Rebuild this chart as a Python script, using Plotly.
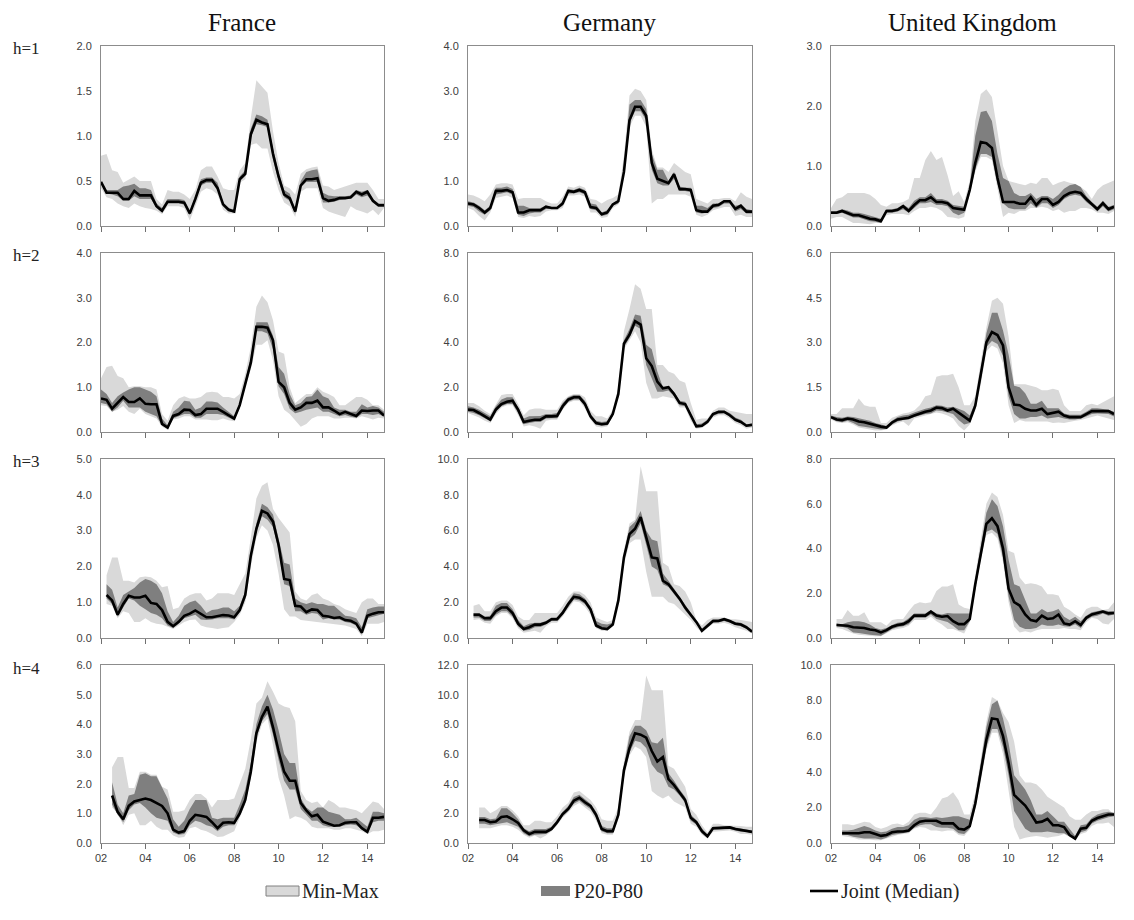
import plotly.graph_objects as go

# ---------------- categories ----------------
QUARTERS = [f"{y}Q{q}" for y in range(2002, 2015) for q in range(1, 5)]
COUNTRIES = ["France", "Germany", "United Kingdom"]
HORIZONS = ["h=1", "h=2", "h=3", "h=4"]
XTICK_VALS = [2002, 2004, 2006, 2008, 2010, 2012, 2014]
XTICK_TEXT = ["02", "04", "06", "08", "10", "12", "14"]

# y-axis maximum and step per panel (rows h=1..4, columns FR, DE, UK)
Y_MAX = [[2, 4, 3], [4, 8, 6], [5, 10, 8], [6, 12, 10]]
Y_STEP = [[0.5, 1, 1], [1, 2, 1.5], [1, 2, 2], [1, 2, 2]]

# ---------------- France ----------------
FR1_START = 0
FR1_MED = [0.49,0.37,0.37,0.37,0.30,0.30,0.39,0.34,0.34,0.34, 0.22,0.17,0.27,0.27,0.27,0.26,0.14,0.30,0.48,0.51,
           0.51,0.42,0.24,0.18,0.16,0.52,0.58,1.02,1.18,1.15, 1.13,0.80,0.55,0.35,0.31,0.16,0.45,0.52,0.52,0.53,
           0.31,0.28,0.29,0.31,0.31,0.32,0.38,0.35,0.38,0.28, 0.23,0.23]
FR1_P80 = [0.50,0.40,0.40,0.40,0.44,0.45,0.47,0.42,0.42,0.40, 0.25,0.20,0.30,0.30,0.30,0.29,0.17,0.33,0.52,0.54,
           0.54,0.48,0.26,0.20,0.18,0.55,0.62,1.08,1.24,1.22, 1.18,0.86,0.60,0.40,0.36,0.19,0.50,0.60,0.62,0.63,
           0.37,0.34,0.33,0.33,0.33,0.34,0.40,0.38,0.40,0.30, 0.25,0.25]
FR1_P20 = [0.47,0.36,0.35,0.33,0.28,0.28,0.33,0.30,0.30,0.30, 0.20,0.15,0.25,0.25,0.25,0.24,0.12,0.28,0.45,0.48,
           0.48,0.44,0.22,0.16,0.15,0.50,0.56,0.98,1.13,1.12, 1.10,0.74,0.50,0.32,0.28,0.14,0.43,0.49,0.49,0.49,
           0.26,0.26,0.27,0.29,0.30,0.30,0.35,0.32,0.34,0.26, 0.21,0.21]
FR1_MAX = [0.78,0.80,0.62,0.60,0.48,0.52,0.55,0.50,0.50,0.50, 0.30,0.24,0.40,0.38,0.38,0.35,0.30,0.40,0.62,0.66,
           0.66,0.55,0.42,0.40,0.40,0.62,0.70,1.20,1.62,1.55, 1.48,1.05,0.70,0.45,0.42,0.35,0.58,0.63,0.65,0.66,
           0.45,0.44,0.40,0.42,0.44,0.46,0.48,0.48,0.48,0.40, 0.30,0.30]
FR1_MIN = [0.42,0.32,0.30,0.25,0.22,0.20,0.25,0.22,0.20,0.19, 0.17,0.13,0.22,0.22,0.22,0.20,0.06,0.22,0.38,0.42,
           0.40,0.35,0.18,0.14,0.14,0.48,0.52,0.90,0.92,0.86, 0.86,0.60,0.40,0.26,0.22,0.10,0.38,0.42,0.42,0.42,
           0.20,0.16,0.14,0.12,0.10,0.22,0.18,0.16,0.14,0.18, 0.12,0.20]

FR2_START = 0
FR2_MED = [0.75,0.72,0.52,0.65,0.78,0.67,0.67,0.75,0.63,0.62, 0.62,0.18,0.10,0.36,0.40,0.50,0.49,0.38,0.40,0.52,
           0.52,0.52,0.45,0.38,0.30,0.60,1.10,1.55,2.35,2.35, 2.33,2.05,1.12,1.00,0.65,0.50,0.55,0.65,0.65,0.70,
           0.55,0.55,0.48,0.40,0.45,0.40,0.36,0.48,0.47,0.48, 0.48,0.37]
FR2_P80 = [0.95,0.85,0.65,0.80,0.88,0.95,1.00,1.00,0.95,0.90, 0.80,0.30,0.15,0.45,0.55,0.70,0.68,0.50,0.55,0.68,
           0.68,0.66,0.55,0.45,0.35,0.65,1.15,1.65,2.45,2.45, 2.45,2.15,1.45,1.30,0.85,0.60,0.65,0.78,0.80,0.95,
           0.80,0.75,0.55,0.50,0.50,0.45,0.45,0.62,0.55,0.58, 0.55,0.45]
FR2_P20 = [0.65,0.62,0.45,0.55,0.70,0.55,0.55,0.55,0.45,0.40, 0.35,0.15,0.08,0.30,0.35,0.40,0.40,0.32,0.32,0.40,
           0.40,0.40,0.38,0.32,0.26,0.55,1.05,1.48,2.25,2.25, 2.20,1.85,1.02,0.85,0.52,0.42,0.45,0.50,0.52,0.55,
           0.45,0.45,0.40,0.35,0.38,0.34,0.32,0.40,0.40,0.38, 0.40,0.34]
FR2_MAX = [1.20,1.45,1.48,1.25,1.20,1.00,1.02,1.02,1.00,1.00, 0.95,0.40,0.25,0.60,0.75,0.80,0.75,0.75,0.78,0.88,
           0.90,0.88,0.78,0.78,0.75,0.85,1.30,1.90,2.80,3.05, 2.90,2.50,1.80,1.75,1.00,0.65,0.75,0.85,0.85,1.00,
           0.90,0.85,0.78,0.60,0.60,0.70,0.78,0.78,0.72,0.60, 0.60,0.50]
FR2_MIN = [0.60,0.58,0.45,0.50,0.58,0.45,0.40,0.52,0.40,0.35, 0.30,0.12,0.05,0.28,0.30,0.35,0.35,0.28,0.28,0.28,
           0.26,0.26,0.30,0.26,0.24,0.52,1.00,1.40,1.95,1.95, 2.05,1.60,0.80,0.50,0.40,0.25,0.12,0.18,0.30,0.35,
           0.35,0.35,0.30,0.30,0.32,0.32,0.30,0.35,0.32,0.28, 0.32,0.30]

FR3_START = 1
FR3_MED = [1.20,1.05,0.65,0.95,1.18,1.13,1.13,1.18,0.98,0.95, 0.78,0.45,0.33,0.45,0.62,0.68,0.77,0.68,0.58,0.58,
           0.62,0.64,0.63,0.58,0.78,1.20,2.30,3.05,3.55,3.48, 3.25,2.60,1.65,1.62,0.90,0.88,0.72,0.80,0.78,0.62,
           0.60,0.56,0.58,0.50,0.48,0.40,0.15,0.62,0.68,0.72, 0.72]
FR3_P80 = [1.50,1.35,0.85,1.20,1.30,1.40,1.55,1.65,1.60,1.50, 1.25,0.75,0.45,0.62,0.90,1.00,1.05,0.90,0.70,0.78,
           0.80,0.85,0.85,0.75,0.90,1.30,2.40,3.20,3.75,3.65, 3.45,2.80,2.10,2.05,1.10,1.00,0.95,1.00,0.95,0.95,
           0.90,0.90,0.75,0.62,0.60,0.55,0.30,0.80,0.85,0.88, 0.88]
FR3_P20 = [1.10,0.95,0.60,0.85,1.10,1.05,0.90,0.80,0.70,0.65, 0.55,0.35,0.28,0.40,0.55,0.60,0.65,0.52,0.50,0.52,
           0.55,0.55,0.55,0.52,0.72,1.10,2.20,2.95,3.40,3.30, 3.10,2.45,1.50,1.45,0.75,0.75,0.65,0.70,0.68,0.52,
           0.55,0.52,0.52,0.45,0.42,0.35,0.10,0.55,0.60,0.65, 0.68]
FR3_MAX = [1.75,2.25,2.25,1.60,1.60,1.55,1.70,1.72,1.70,1.60, 1.42,1.45,0.80,0.85,1.10,1.20,1.25,1.25,1.05,1.10,
           1.25,1.25,1.25,1.20,1.50,1.80,2.80,3.90,4.25,4.35, 3.60,3.35,3.15,2.95,1.30,1.10,1.05,1.20,1.25,1.10,
           1.05,0.95,0.90,0.80,0.75,0.70,1.00,1.10,1.10,0.95, 0.95]
FR3_MIN = [0.95,0.90,0.55,0.75,0.70,0.45,0.45,0.55,0.45,0.40, 0.38,0.32,0.25,0.35,0.45,0.50,0.52,0.35,0.30,0.28,
           0.25,0.28,0.30,0.45,0.65,1.00,2.00,2.80,3.15,3.00, 2.60,1.80,0.80,0.60,0.60,0.50,0.48,0.48,0.45,0.42,
           0.40,0.38,0.38,0.35,0.30,0.25,0.05,0.40,0.40,0.40, 0.45]

FR4_START = 2
FR4_MED = [1.60,1.05,0.80,1.25,1.40,1.45,1.50,1.45,1.35,1.25, 1.00,0.45,0.35,0.40,0.75,0.95,0.92,0.88,0.70,0.50,
           0.68,0.70,0.68,1.00,1.45,2.40,3.70,4.25,4.60,3.90, 3.10,2.40,2.10,2.10,1.35,1.10,0.90,0.95,0.72,0.65,
           0.58,0.60,0.68,0.70,0.70,0.50,0.38,0.85,0.85,0.88]
FR4_P80 = [2.05,1.30,1.00,1.60,1.65,2.30,2.35,2.25,2.25,1.85, 1.50,0.80,0.55,0.75,1.15,1.45,1.45,1.45,0.85,0.80,
           0.85,0.85,0.85,1.30,1.80,2.70,4.00,4.60,5.00,4.50, 3.80,3.00,2.70,2.70,1.50,1.20,1.05,1.20,1.20,1.05,
           1.00,0.95,0.80,0.80,0.85,0.70,0.55,1.05,1.05,1.00]
FR4_P20 = [1.30,0.95,0.70,1.10,1.30,1.35,1.20,1.00,0.85,0.80, 0.75,0.35,0.28,0.30,0.60,0.75,0.70,0.60,0.55,0.40,
           0.55,0.60,0.60,0.90,1.35,2.25,3.55,4.10,4.35,3.65, 2.80,2.10,1.80,1.80,1.15,0.95,0.75,0.75,0.60,0.55,
           0.55,0.55,0.60,0.62,0.60,0.45,0.32,0.70,0.75,0.75]
FR4_MAX = [2.55,2.90,2.90,1.85,1.85,2.40,2.40,2.30,2.30,1.90, 1.80,1.05,1.05,1.10,1.45,1.65,1.65,1.50,1.20,1.45,
           1.45,1.45,1.50,2.00,2.50,3.50,4.70,4.90,5.45,5.10, 4.70,4.60,4.55,4.10,1.75,1.45,1.35,1.40,1.20,1.45,
           1.35,1.20,1.20,1.15,1.10,1.00,1.20,1.40,1.35,1.15]
FR4_MIN = [1.20,1.00,0.60,0.95,1.00,0.60,0.60,0.75,0.55,0.45, 0.45,0.25,0.18,0.20,0.50,0.55,0.45,0.40,0.30,0.20,
           0.22,0.30,0.40,0.85,1.30,2.20,3.40,4.00,4.20,3.30, 2.20,1.60,0.80,0.90,0.85,0.75,0.55,0.50,0.50,0.50,
           0.45,0.45,0.50,0.50,0.45,0.40,0.30,0.40,0.40,0.45]

# ---------------- Germany ----------------
DE1_START = 0
DE1_MED = [0.50,0.48,0.40,0.30,0.40,0.78,0.78,0.80,0.75,0.30, 0.30,0.35,0.35,0.35,0.43,0.40,0.40,0.50,0.78,0.76,
           0.80,0.75,0.42,0.40,0.26,0.30,0.48,0.55,1.20,2.35, 2.65,2.65,2.45,1.40,1.05,1.00,0.95,1.15,0.82,0.82,
           0.80,0.35,0.32,0.32,0.45,0.47,0.55,0.55,0.38,0.45, 0.32,0.32]
DE1_P80 = [0.55,0.52,0.45,0.35,0.45,0.85,0.85,0.88,0.82,0.45, 0.45,0.40,0.40,0.40,0.45,0.42,0.42,0.55,0.82,0.80,
           0.85,0.80,0.50,0.48,0.30,0.35,0.50,0.58,1.25,2.70, 2.80,2.80,2.60,1.60,1.25,1.25,1.00,1.20,0.88,0.85,
           0.85,0.45,0.45,0.40,0.50,0.50,0.58,0.58,0.45,0.48, 0.38,0.35]
DE1_P20 = [0.45,0.42,0.32,0.25,0.35,0.70,0.72,0.75,0.70,0.25, 0.22,0.28,0.30,0.30,0.38,0.38,0.38,0.45,0.72,0.72,
           0.75,0.70,0.38,0.35,0.22,0.25,0.45,0.50,1.15,2.30, 2.55,2.55,2.35,1.25,0.95,0.90,0.90,1.05,0.78,0.78,
           0.75,0.30,0.28,0.30,0.40,0.42,0.50,0.50,0.32,0.38, 0.28,0.28]
DE1_MAX = [0.70,0.68,0.62,0.55,0.70,0.92,0.95,0.95,0.92,0.60, 0.62,0.62,0.62,0.62,0.55,0.50,0.50,0.65,0.88,0.85,
           0.90,0.85,0.60,0.58,0.50,0.58,0.62,0.70,1.55,2.90, 3.05,3.00,2.80,1.70,1.30,1.30,1.20,1.40,1.30,1.20,
           1.15,0.60,0.55,0.50,0.60,0.60,0.62,0.62,0.55,0.75, 0.65,0.60]
DE1_MIN = [0.40,0.35,0.22,0.12,0.30,0.62,0.65,0.68,0.62,0.20, 0.18,0.22,0.20,0.22,0.32,0.35,0.35,0.40,0.68,0.68,
           0.70,0.65,0.30,0.30,0.18,0.20,0.40,0.48,1.10,2.20, 2.45,2.45,2.20,0.50,0.60,0.60,0.70,0.70,0.70,0.70,
           0.65,0.25,0.20,0.25,0.35,0.38,0.42,0.42,0.22,0.25, 0.20,0.20]

DE2_START = 0
DE2_MED = [1.00,0.98,0.85,0.70,0.55,1.00,1.25,1.35,1.40,1.00, 0.45,0.50,0.55,0.55,0.70,0.70,0.72,1.15,1.45,1.55,
           1.55,1.25,0.70,0.40,0.35,0.38,0.80,1.70,3.95,4.35, 4.95,4.80,3.30,2.95,2.25,1.95,2.00,1.70,1.30,1.25,
           0.75,0.25,0.28,0.45,0.80,0.90,0.90,0.75,0.55,0.45, 0.28,0.32]
DE2_P80 = [1.15,1.10,1.00,0.85,0.70,1.15,1.45,1.55,1.55,1.10, 0.60,0.70,0.72,0.72,0.80,0.80,0.85,1.30,1.55,1.65,
           1.65,1.40,0.80,0.50,0.45,0.48,0.90,1.80,4.10,4.60, 5.25,5.20,3.90,3.70,2.70,2.00,2.05,1.80,1.40,1.35,
           0.85,0.35,0.38,0.55,0.85,0.95,0.95,0.85,0.65,0.55, 0.35,0.38]
DE2_P20 = [0.90,0.85,0.75,0.60,0.48,0.90,1.15,1.25,1.25,0.85, 0.35,0.40,0.45,0.45,0.60,0.62,0.62,1.05,1.35,1.45,
           1.45,1.15,0.60,0.32,0.28,0.30,0.72,1.60,3.80,4.20, 4.75,4.60,3.00,2.40,1.80,1.80,1.85,1.60,1.20,1.15,
           0.65,0.20,0.22,0.40,0.72,0.82,0.85,0.70,0.48,0.40, 0.22,0.28]
DE2_MAX = [1.30,1.30,1.15,0.95,0.80,1.25,1.65,1.70,1.70,1.25, 0.75,1.00,1.05,1.05,1.00,1.00,1.00,1.40,1.60,1.70,
           1.70,1.55,0.95,0.70,0.70,0.60,1.00,2.00,4.50,5.50, 6.60,6.40,5.50,5.50,3.00,3.00,2.70,2.60,2.30,2.20,
           1.30,0.55,0.60,0.60,0.95,1.10,1.10,0.95,0.90,0.85, 0.80,0.80]
DE2_MIN = [0.85,0.75,0.65,0.50,0.40,0.80,1.10,1.20,1.20,0.75, 0.25,0.30,0.25,0.15,0.50,0.55,0.55,1.00,1.30,1.40,
           1.40,1.05,0.55,0.25,0.20,0.25,0.70,1.55,3.70,4.10, 4.50,4.00,2.20,1.50,1.50,1.60,1.55,1.50,1.10,1.10,
           0.50,0.15,0.18,0.35,0.65,0.75,0.75,0.60,0.40,0.30, 0.15,0.20]

DE3_START = 1
DE3_MED = [1.30,1.30,1.10,1.10,1.50,1.70,1.70,1.40,0.80,0.50, 0.60,0.75,0.75,0.85,1.05,1.05,1.40,1.90,2.30,2.25,
           2.05,1.60,0.70,0.55,0.50,0.75,2.10,4.50,5.80,6.10, 6.75,5.60,4.50,4.45,3.20,3.00,2.60,2.20,1.70,1.30,
           0.90,0.40,0.70,0.95,0.95,1.05,0.95,0.80,0.75,0.60, 0.35]
DE3_P80 = [1.40,1.40,1.20,1.25,1.80,1.95,1.95,1.60,1.00,0.65, 0.80,0.85,0.85,0.95,1.15,1.15,1.55,2.05,2.50,2.45,
           2.20,1.75,0.95,0.80,0.75,0.85,2.20,4.65,6.20,6.50, 7.10,6.00,5.50,5.40,3.60,3.20,2.75,2.35,1.85,1.40,
           1.00,0.50,0.80,1.05,1.05,1.10,1.00,0.90,0.85,0.70, 0.45]
DE3_P20 = [1.15,1.15,0.95,0.95,1.30,1.50,1.50,1.20,0.65,0.40, 0.45,0.60,0.62,0.75,0.95,0.95,1.30,1.75,2.15,2.10,
           1.90,1.45,0.60,0.48,0.45,0.70,2.00,4.30,5.55,5.80, 6.40,5.20,4.00,3.80,3.00,2.85,2.45,2.05,1.55,1.20,
           0.80,0.35,0.62,0.85,0.88,0.95,0.85,0.72,0.65,0.50, 0.30]
DE3_MAX = [1.80,1.90,1.50,1.50,2.00,2.10,2.10,1.85,1.20,1.00, 1.00,1.40,1.40,1.40,1.40,1.40,1.80,2.30,2.60,2.60,
           2.40,2.00,1.15,1.00,0.90,1.00,2.40,4.90,6.40,6.60, 9.60,8.20,8.20,8.20,4.20,4.00,3.00,2.90,2.60,2.00,
           1.00,0.70,1.00,1.15,1.15,1.15,1.05,1.05,1.00,0.95, 0.90]
DE3_MIN = [1.00,1.05,0.85,0.80,1.20,1.40,1.40,1.10,0.55,0.30, 0.35,0.40,0.30,0.65,0.85,0.85,1.20,1.65,2.05,2.00,
           1.75,1.30,0.55,0.40,0.40,0.65,1.90,4.10,5.30,5.50, 5.50,3.70,2.30,2.30,2.30,2.00,1.90,1.60,1.30,1.00,
           0.60,0.30,0.55,0.80,0.80,0.85,0.75,0.60,0.50,0.40, 0.25]

DE4_START = 2
DE4_MED = [1.55,1.55,1.40,1.45,1.75,1.80,1.60,1.35,0.85,0.60, 0.75,0.75,0.75,0.95,1.40,1.95,2.30,2.85,3.05,2.75,
           2.50,1.90,0.95,0.80,0.80,1.90,4.90,6.40,7.40,7.30, 7.10,6.20,5.50,5.80,4.30,3.90,3.40,2.90,1.70,1.40,
           0.80,0.45,1.00,1.00,1.00,1.05,0.95,0.90,0.85,0.75]
DE4_P80 = [1.75,1.75,1.60,1.65,2.35,2.35,2.00,1.60,1.00,0.80, 0.95,0.95,0.95,1.10,1.55,2.10,2.50,3.10,3.25,2.95,
           2.65,2.10,1.15,1.00,1.00,2.10,5.20,7.20,7.90,7.90, 7.60,6.80,6.70,7.10,4.70,4.20,3.60,3.10,1.90,1.55,
           1.00,0.55,1.10,1.10,1.10,1.15,1.05,1.00,0.95,0.85]
DE4_P20 = [1.30,1.30,1.20,1.25,1.30,1.40,1.25,1.10,0.65,0.45, 0.55,0.55,0.60,0.85,1.25,1.80,2.15,2.65,2.85,2.55,
           2.30,1.70,0.80,0.65,0.65,1.75,4.60,6.10,6.90,6.80, 6.40,5.30,4.80,4.60,3.80,3.60,3.20,2.70,1.50,1.25,
           0.65,0.35,0.90,0.90,0.90,0.95,0.85,0.75,0.75,0.65]
DE4_MAX = [2.40,2.40,2.00,2.20,2.50,2.50,2.20,1.80,1.20,1.20, 1.50,1.50,1.40,1.40,1.80,2.40,2.70,3.40,3.50,3.20,
           2.90,2.40,1.60,1.50,1.50,2.40,5.50,7.50,8.30,8.30, 11.30,10.30,10.30,10.30,5.20,5.00,4.40,3.80,2.30,1.90,
           1.20,0.70,1.30,1.30,1.20,1.20,1.20,1.15,1.10,1.10]
DE4_MIN = [1.00,1.00,1.00,1.10,1.20,1.20,1.10,0.90,0.55,0.35, 0.50,0.30,0.50,0.80,1.20,1.70,2.05,2.50,2.70,2.40,
           2.10,1.50,0.65,0.55,0.55,1.60,4.40,5.90,6.50,6.30, 5.80,3.50,3.20,3.00,3.20,2.80,2.60,2.40,1.30,1.10,
           0.55,0.30,0.75,0.80,0.80,0.85,0.75,0.60,0.60,0.55]

# ---------------- United Kingdom ----------------
UK1_START = 0
UK1_MED = [0.22,0.22,0.25,0.22,0.18,0.18,0.15,0.12,0.11,0.08, 0.25,0.25,0.27,0.33,0.25,0.35,0.43,0.43,0.48,0.40,
           0.40,0.38,0.30,0.28,0.27,0.60,1.05,1.40,1.38,1.30, 0.80,0.40,0.40,0.40,0.37,0.37,0.48,0.35,0.45,0.45,
           0.35,0.40,0.50,0.55,0.57,0.55,0.45,0.37,0.28,0.38, 0.28,0.32]
UK1_P80 = [0.25,0.25,0.28,0.26,0.22,0.22,0.20,0.17,0.15,0.12, 0.28,0.28,0.30,0.36,0.30,0.42,0.48,0.48,0.55,0.45,
           0.45,0.42,0.35,0.34,0.32,0.65,1.50,1.90,1.92,1.75, 1.20,0.80,0.75,0.55,0.50,0.50,0.55,0.45,0.50,0.50,
           0.45,0.52,0.62,0.68,0.70,0.65,0.50,0.40,0.32,0.42, 0.32,0.35]
UK1_P20 = [0.20,0.20,0.22,0.18,0.14,0.14,0.11,0.08,0.07,0.05, 0.22,0.22,0.24,0.28,0.22,0.30,0.38,0.38,0.40,0.35,
           0.35,0.33,0.22,0.18,0.22,0.55,0.95,1.20,1.20,1.15, 0.70,0.38,0.30,0.28,0.28,0.28,0.38,0.30,0.38,0.38,
           0.30,0.35,0.45,0.50,0.52,0.50,0.40,0.33,0.24,0.33, 0.24,0.28]
UK1_MAX = [0.30,0.45,0.48,0.55,0.55,0.55,0.55,0.52,0.45,0.35, 0.32,0.38,0.38,0.40,0.45,0.80,0.80,1.10,1.25,1.10,
           1.15,0.85,0.50,0.58,0.40,0.75,1.75,2.20,2.28,2.15, 1.60,1.00,0.75,0.72,0.70,0.68,0.72,0.70,0.80,0.80,
           0.68,0.72,0.75,0.72,0.70,0.65,0.58,0.45,0.60,0.68, 0.72,0.76]
UK1_MIN = [0.12,0.15,0.15,0.10,0.05,0.05,0.04,0.03,0.05,0.05, 0.18,0.20,0.20,0.20,0.18,0.25,0.30,0.30,0.32,0.30,
           0.25,0.15,0.14,0.12,0.15,0.52,0.90,1.15,1.15,1.10, 0.60,0.15,0.22,0.20,0.25,0.25,0.30,0.30,0.32,0.30,
           0.25,0.28,0.22,0.25,0.25,0.30,0.30,0.28,0.22,0.22, 0.20,0.25]

UK2_START = 0
UK2_MED = [0.50,0.42,0.40,0.45,0.42,0.35,0.33,0.28,0.22,0.18, 0.15,0.32,0.42,0.45,0.48,0.55,0.62,0.68,0.72,0.82,
           0.80,0.72,0.78,0.65,0.50,0.38,0.88,1.90,3.00,3.35, 3.25,2.90,1.50,0.92,0.90,0.78,0.72,0.72,0.78,0.60,
           0.65,0.68,0.55,0.50,0.50,0.50,0.60,0.70,0.70,0.70, 0.70,0.60]
UK2_P80 = [0.55,0.50,0.48,0.52,0.50,0.45,0.42,0.38,0.30,0.25, 0.20,0.38,0.50,0.55,0.58,0.65,0.72,0.78,0.82,0.90,
           0.88,0.82,0.85,0.78,0.70,0.55,1.00,2.10,3.30,4.00, 4.00,3.40,2.60,1.55,1.50,1.30,0.95,0.95,1.05,0.80,
           0.80,0.80,0.62,0.58,0.58,0.58,0.68,0.80,0.80,0.78, 0.75,0.68]
UK2_P20 = [0.45,0.36,0.33,0.38,0.30,0.20,0.18,0.15,0.10,0.08, 0.10,0.25,0.35,0.40,0.42,0.50,0.55,0.60,0.62,0.72,
           0.70,0.65,0.60,0.40,0.25,0.30,0.78,1.75,2.85,3.05, 2.95,2.55,1.20,0.60,0.45,0.45,0.50,0.50,0.55,0.45,
           0.48,0.50,0.45,0.42,0.42,0.45,0.52,0.60,0.62,0.62, 0.60,0.52]
UK2_MAX = [0.60,0.60,0.80,0.80,0.80,1.12,0.90,0.85,0.85,0.30, 0.30,0.48,0.55,0.62,0.65,0.72,0.90,1.20,1.25,1.85,
           1.90,1.90,1.95,1.50,0.90,0.90,1.20,2.40,3.50,4.40, 4.50,4.30,3.20,1.60,1.60,1.60,1.55,1.50,1.40,1.40,
           1.45,1.40,0.90,0.70,0.70,0.70,0.90,0.95,0.90,1.00, 1.10,1.20]
UK2_MIN = [0.42,0.33,0.30,0.33,0.25,0.15,0.12,0.08,0.05,0.05, 0.08,0.22,0.30,0.35,0.20,0.45,0.50,0.55,0.58,0.65,
           0.62,0.55,0.45,0.20,0.05,0.25,0.72,1.60,2.70,2.90, 2.80,2.30,0.90,0.30,0.40,0.35,0.35,0.35,0.35,0.35,
           0.30,0.32,0.30,0.35,0.38,0.40,0.45,0.50,0.55,0.50, 0.45,0.40]

UK3_START = 1
UK3_MED = [0.58,0.55,0.55,0.48,0.48,0.45,0.38,0.35,0.25,0.35, 0.50,0.58,0.62,0.75,1.00,1.00,1.00,1.18,1.00,0.95,
           0.98,0.75,0.62,0.62,0.85,2.40,3.80,5.10,5.35,5.00, 4.00,2.20,1.60,1.45,1.05,0.80,0.75,1.00,0.85,0.88,
           1.05,0.65,0.60,0.75,0.58,0.90,1.05,1.10,1.18,1.10, 1.12]
UK3_P80 = [0.65,0.62,0.70,0.75,0.75,0.70,0.60,0.45,0.38,0.45, 0.58,0.68,0.72,0.88,1.10,1.10,1.10,1.25,1.10,1.05,
           1.12,1.10,1.10,1.10,1.10,2.60,4.20,5.60,6.20,5.90, 5.00,3.50,2.40,2.30,1.70,1.10,1.10,1.30,1.15,1.20,
           1.30,0.95,0.80,0.95,0.75,1.00,1.15,1.20,1.25,1.20, 1.20]
UK3_P20 = [0.52,0.50,0.42,0.25,0.22,0.20,0.15,0.12,0.10,0.25, 0.40,0.48,0.52,0.62,0.90,0.90,0.90,1.05,0.85,0.78,
           0.72,0.55,0.35,0.35,0.75,2.20,3.60,4.75,4.85,4.65, 3.60,1.85,0.80,0.50,0.40,0.40,0.45,0.60,0.55,0.55,
           0.60,0.52,0.50,0.62,0.45,0.80,0.95,1.00,1.10,1.00, 1.05]
UK3_MAX = [0.85,0.85,1.25,1.00,1.00,1.15,0.70,0.70,0.70,0.55, 0.80,0.85,0.85,1.20,1.50,1.60,1.55,1.60,2.10,2.30,
           2.30,2.40,1.50,1.35,1.30,2.80,4.40,6.00,6.50,6.30, 5.50,3.90,3.80,2.70,2.40,2.45,2.40,2.30,1.95,1.95,
           1.90,1.40,1.25,1.05,0.90,1.30,1.40,1.40,1.25,1.30, 1.60]
UK3_MIN = [0.45,0.40,0.30,0.20,0.15,0.12,0.10,0.08,0.08,0.22, 0.35,0.40,0.45,0.55,0.80,0.80,0.80,0.95,0.75,0.60,
           0.40,0.40,0.30,0.20,0.70,2.10,3.50,4.60,4.70,4.45, 3.40,1.60,0.50,0.25,0.30,0.25,0.35,0.40,0.40,0.40,
           0.40,0.45,0.40,0.40,0.35,0.70,0.90,0.85,0.65,0.60, 0.85]

UK4_START = 2
UK4_MED = [0.55,0.55,0.55,0.55,0.60,0.60,0.50,0.40,0.45,0.60, 0.65,0.65,0.70,1.00,1.20,1.25,1.25,1.25,1.10,1.10,
           1.10,0.80,0.75,0.95,2.20,4.00,5.80,7.00,6.95,6.00, 4.50,2.70,2.40,2.10,1.65,1.15,1.20,1.35,1.00,1.00,
           0.90,0.45,0.25,0.80,0.85,1.25,1.40,1.50,1.60,1.60]
UK4_P80 = [0.70,0.70,0.75,0.85,0.95,0.85,0.70,0.60,0.65,0.80, 0.90,0.90,1.00,1.30,1.45,1.45,1.40,1.45,1.40,1.45,
           1.50,1.50,1.40,1.30,2.50,4.40,6.50,7.80,8.00,7.00, 5.60,3.80,3.40,3.00,2.40,1.60,1.60,1.80,1.50,1.20,
           1.20,0.80,0.40,1.00,1.05,1.40,1.60,1.70,1.75,1.70]
UK4_P20 = [0.45,0.45,0.35,0.30,0.25,0.25,0.25,0.20,0.30,0.45, 0.50,0.55,0.60,0.85,1.00,1.05,1.05,0.90,0.85,0.85,
           0.80,0.55,0.50,0.80,2.00,3.70,5.40,6.40,6.40,5.40, 3.80,1.80,1.30,0.80,0.60,0.60,0.60,0.65,0.60,0.55,
           0.55,0.35,0.20,0.60,0.70,1.10,1.25,1.35,1.45,1.50]
UK4_MAX = [1.05,1.05,1.00,1.10,1.20,1.15,0.90,0.80,0.90,1.05, 1.10,1.00,1.20,1.60,1.70,1.70,1.60,2.00,2.50,2.60,
           2.85,2.40,1.60,1.60,2.80,4.70,6.80,8.20,8.00,7.30, 6.80,5.70,3.80,3.40,3.40,3.30,3.00,2.60,2.40,2.20,
           2.00,1.50,1.30,1.30,1.60,1.80,1.80,1.90,1.90,1.60]
UK4_MIN = [0.40,0.35,0.30,0.20,0.20,0.20,0.15,0.15,0.25,0.35, 0.45,0.50,0.55,0.80,0.90,0.85,0.70,0.70,0.65,0.70,
           0.70,0.45,0.40,0.75,1.90,3.50,5.20,6.20,6.20,5.00, 3.00,0.90,0.20,0.30,0.35,0.40,0.35,0.30,0.35,0.40,
           0.50,0.30,0.15,0.50,0.60,0.95,1.10,1.10,1.15,0.90]

PANELS = [
    [(FR1_START, FR1_MIN, FR1_MAX, FR1_P20, FR1_P80, FR1_MED),
     (DE1_START, DE1_MIN, DE1_MAX, DE1_P20, DE1_P80, DE1_MED),
     (UK1_START, UK1_MIN, UK1_MAX, UK1_P20, UK1_P80, UK1_MED)],
    [(FR2_START, FR2_MIN, FR2_MAX, FR2_P20, FR2_P80, FR2_MED),
     (DE2_START, DE2_MIN, DE2_MAX, DE2_P20, DE2_P80, DE2_MED),
     (UK2_START, UK2_MIN, UK2_MAX, UK2_P20, UK2_P80, UK2_MED)],
    [(FR3_START, FR3_MIN, FR3_MAX, FR3_P20, FR3_P80, FR3_MED),
     (DE3_START, DE3_MIN, DE3_MAX, DE3_P20, DE3_P80, DE3_MED),
     (UK3_START, UK3_MIN, UK3_MAX, UK3_P20, UK3_P80, UK3_MED)],
    [(FR4_START, FR4_MIN, FR4_MAX, FR4_P20, FR4_P80, FR4_MED),
     (DE4_START, DE4_MIN, DE4_MAX, DE4_P20, DE4_P80, DE4_MED),
     (UK4_START, UK4_MIN, UK4_MAX, UK4_P20, UK4_P80, UK4_MED)],
]


def q_to_num(label):
    return int(label[:4]) + (int(label[-1]) - 1) / 4.0


X_ALL = [q_to_num(q) for q in QUARTERS]

# ---------------- styling / layout (screen pixels) ----------------
OFF = 8                      # default page body margin
W, H = 1134 - 2 * OFF, 920 - 2 * OFF
COL_X = [(101, 384), (468, 752), (831, 1114)]
ROW_Y = [(46, 226), (253, 432), (459, 638), (665, 843)]
C_MINMAX = "#d9d9d9"
C_P2080 = "#7f7f7f"
C_MED = "#000000"
SERIF = "Liberation Serif, Times New Roman, serif"
SANS = "Liberation Sans, Arial, sans-serif"


def px(x):
    return (x - OFF) / W


def py(y):
    return 1 - (y - OFF) / H


fig = go.Figure()
layout_axes = {}

for r in range(4):
    for c in range(3):
        n = r * 3 + c + 1
        xs = "x" if n == 1 else f"x{n}"
        ys = "y" if n == 1 else f"y{n}"
        start, mn, mx, p20, p80, med = PANELS[r][c]
        for arr in (mn, mx, p20, p80, med):
            if len(arr) != 52 - start:
                raise ValueError(f"panel r{r} c{c}: length {len(arr)} != {52 - start}")
        xv = X_ALL[start:]
        common = dict(xaxis=xs, yaxis=ys, showlegend=False, hoverinfo="skip", mode="lines")
        fig.add_trace(go.Scatter(x=xv, y=mx, line=dict(width=0, color=C_MINMAX), **common))
        fig.add_trace(go.Scatter(x=xv, y=mn, line=dict(width=0, color=C_MINMAX),
                                 fill="tonexty", fillcolor=C_MINMAX, **common))
        fig.add_trace(go.Scatter(x=xv, y=p80, line=dict(width=0, color=C_P2080), **common))
        fig.add_trace(go.Scatter(x=xv, y=p20, line=dict(width=0, color=C_P2080),
                                 fill="tonexty", fillcolor=C_P2080, **common))
        fig.add_trace(go.Scatter(x=xv, y=med, line=dict(width=2.6, color=C_MED), **common))

        x0, x1 = COL_X[c]
        y0, y1 = ROW_Y[r]
        xkey = "xaxis" if n == 1 else f"xaxis{n}"
        ykey = "yaxis" if n == 1 else f"yaxis{n}"
        ymax = Y_MAX[r][c]
        step = Y_STEP[r][c]
        nt = int(round(ymax / step))
        yt = [k * step for k in range(nt + 1)]
        layout_axes[xkey] = dict(
            domain=[px(x0), px(x1)], anchor=ys, range=[2002, 2014.75], automargin=False,
            tickvals=XTICK_VALS, ticktext=XTICK_TEXT, showticklabels=(r == 3),
            ticks="outside", ticklen=5, tickcolor="#707070", tickwidth=1,
            showline=True, mirror=True, linecolor="#8c8c8c", linewidth=1,
            showgrid=False, zeroline=False,
            tickfont=dict(family=SANS, size=11, color="#404040"),
        )
        layout_axes[ykey] = dict(
            domain=[py(y1), py(y0)], anchor=xs, range=[0, ymax], automargin=False,
            tickvals=yt, ticktext=[f"{v:.1f}" for v in yt], ticks="",
            ticklabelstandoff=6,
            showline=True, mirror=True, linecolor="#8c8c8c", linewidth=1,
            showgrid=False, zeroline=False,
            tickfont=dict(family=SANS, size=11, color="#404040"),
        )

annotations = []
for c, name in enumerate(COUNTRIES):
    x0, x1 = COL_X[c]
    annotations.append(dict(text=name, x=px((x0 + x1) / 2), y=1.0, xref="paper", yref="paper",
                            xanchor="center", yanchor="top", showarrow=False, borderpad=0,
                            font=dict(family=SERIF, size=25, color="#111111")))
for r, lab in enumerate(HORIZONS):
    annotations.append(dict(text=lab, x=px(11), y=py(ROW_Y[r][0] + 3), xref="paper", yref="paper",
                            xanchor="left", yanchor="middle", showarrow=False,
                            font=dict(family=SERIF, size=17, color="#222222")))

# manual legend
LEG_Y = 891
LEG_FONT = dict(family=SERIF, size=20, color="#222222")
shapes = [
    dict(type="rect", xref="paper", yref="paper", x0=px(266), x1=px(299), y0=py(896), y1=py(886),
         fillcolor=C_MINMAX, line=dict(color="#808080", width=1)),
    dict(type="rect", xref="paper", yref="paper", x0=px(541), x1=px(570), y0=py(896), y1=py(886),
         fillcolor=C_P2080, line=dict(width=0)),
    dict(type="line", xref="paper", yref="paper", x0=px(810), x1=px(838), y0=py(LEG_Y), y1=py(LEG_Y),
         line=dict(color=C_MED, width=2.6)),
]
for xx, txt in [(300, "Min-Max"), (572, "P20-P80"), (839, "Joint (Median)")]:
    annotations.append(dict(text=txt, x=px(xx), y=py(LEG_Y), xref="paper", yref="paper",
                            xanchor="left", yanchor="middle", showarrow=False, font=LEG_FONT))

fig.update_layout(
    width=W, height=H, margin=dict(l=0, r=0, t=0, b=0, autoexpand=False),
    paper_bgcolor="white", plot_bgcolor="white",
    showlegend=False, annotations=annotations, shapes=shapes,
    **layout_axes,
)

fig.write_html("out.html")
